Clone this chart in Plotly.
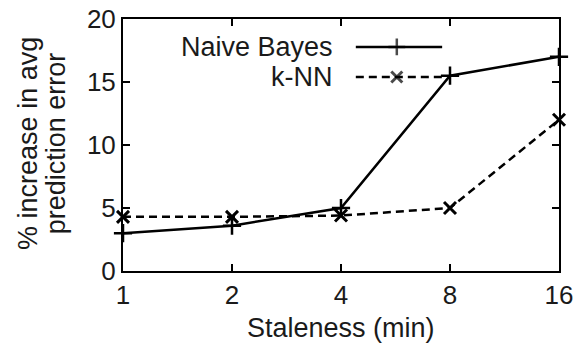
import plotly.graph_objects as go

staleness = [1, 2, 4, 8, 16]
tick_labels = ["1", "2", "4", "8", "16"]
naive_bayes = [3.0, 3.6, 5.0, 15.5, 17.0]
knn = [4.3, 4.3, 4.4, 5.0, 12.0]
series_names = ["Naive Bayes", "k-NN"]
y_title_lines = ["% increase in avg", "prediction error"]
x_title = "Staleness (min)"

FONT = "Liberation Sans, Arial, Helvetica, sans-serif"
FS = 27
TFS = 26
INK = "#1a1a1a"

fig = go.Figure()
fig.add_trace(go.Scatter(
    x=staleness, y=naive_bayes, mode="lines+markers", name=series_names[0],
    line=dict(color="black", width=2.5),
    marker=dict(symbol="cross-thin", size=13, line=dict(color="black", width=2.5)),
    showlegend=False, cliponaxis=False))
fig.add_trace(go.Scatter(
    x=staleness, y=knn, mode="lines+markers", name=series_names[1],
    line=dict(color="black", width=2.5, dash="8px,5px"),
    marker=dict(symbol="x-thin", size=12, line=dict(color="black", width=3)),
    showlegend=False, cliponaxis=False))

# manual gnuplot-style legend (label on the left, sample on the right)
leg_x = [0.534, 0.628, 0.732]
leg_y = [0.889, 0.770]
fig.add_trace(go.Scatter(
    x=leg_x, y=[leg_y[0]] * 3, xaxis="x2", yaxis="y2", mode="lines+markers",
    line=dict(color="black", width=2.5),
    marker=dict(symbol="cross-thin", size=[0, 12, 0], line=dict(color="black", width=2.5)),
    showlegend=False, hoverinfo="skip"))
fig.add_trace(go.Scatter(
    x=leg_x, y=[leg_y[1]] * 3, xaxis="x2", yaxis="y2", mode="lines+markers",
    line=dict(color="black", width=2.5, dash="8px,5px"),
    marker=dict(symbol="x-thin", size=[0, 11, 0], line=dict(color="black", width=3)),
    showlegend=False, hoverinfo="skip"))
for name, yy in zip(series_names, leg_y):
    fig.add_annotation(x=0.487, y=yy, xref="paper", yref="paper", text=name,
                       showarrow=False, xanchor="right", yanchor="middle",
                       font=dict(family=FONT, size=FS, color=INK))

# two-line y title with tight line spacing
for line, xp in zip(y_title_lines, [-0.218, -0.153]):
    fig.add_annotation(x=xp, y=0.508, xref="paper", yref="paper", text=line,
                       textangle=-90, showarrow=False, xanchor="center", yanchor="middle",
                       font=dict(family=FONT, size=FS, color=INK))

# x title
fig.add_annotation(x=0.5, y=-0.225, xref="paper", yref="paper", text=x_title,
                   showarrow=False, xanchor="center", yanchor="middle",
                   font=dict(family=FONT, size=FS, color=INK))

axis_common = dict(showline=True, linecolor="black", linewidth=2, mirror="ticks",
                   ticks="inside", ticklen=7, tickwidth=1.5, tickcolor="black",
                   showgrid=False, zeroline=False, automargin=False,
                   tickfont=dict(family=FONT, size=TFS, color=INK))

fig.update_layout(
    width=583, height=350,
    margin=dict(l=123, r=24, t=19, b=79),
    paper_bgcolor="white", plot_bgcolor="white",
    xaxis=dict(type="log", range=[0, 1.20412], tickvals=staleness, ticktext=tick_labels,
               **axis_common),
    yaxis=dict(range=[0, 20], tickvals=[0, 5, 10, 15, 20], **axis_common),
    xaxis2=dict(overlaying="x", range=[0, 1], visible=False),
    yaxis2=dict(overlaying="y", range=[0, 1], visible=False),
)

fig.write_html("out.html", config={"displayModeBar": False},
               post_script="document.body.style.margin='0px';document.body.style.overflow='hidden';")
